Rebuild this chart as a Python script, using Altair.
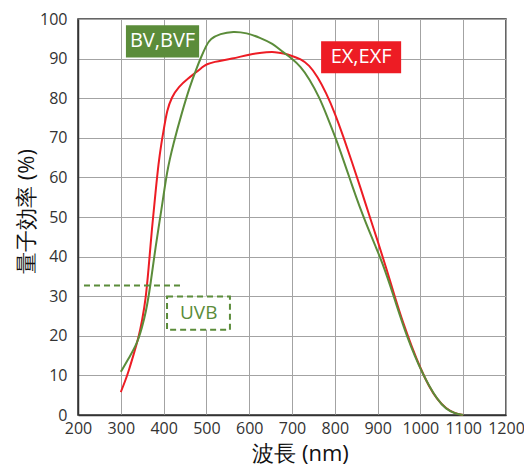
import altair as alt
import pandas as pd

# EX,EXF (red) quantum efficiency curve
wl_ex = [300, 310, 319, 330, 342, 350, 358, 365, 373, 381, 388, 395, 400, 408, 419, 435, 457, 477,
         490, 500, 520, 540, 560, 580, 600, 620, 640, 660, 680, 700, 720, 740, 760, 780, 800, 820,
         840, 860, 880, 900, 920, 940, 960, 980, 1000, 1020, 1040, 1060, 1080, 1100]
qe_ex = [5.8, 8.5, 11.3, 15.3, 19.7, 24.0, 29.0, 37.0, 47.5, 56.0, 63.5, 68.8, 71.8, 77.0, 80.3, 82.9,
         85.0, 86.6, 87.8, 88.6, 89.2, 89.6, 90.0, 90.5, 91.0, 91.4, 91.6, 91.7, 91.3, 90.7, 89.9, 88.4,
         85.4, 81.3, 76.3, 70.3, 63.9, 57.4, 50.6, 44.0, 37.2, 29.9, 23.1, 17.2, 11.8, 7.2, 3.8, 1.6,
         0.4, 0.0]

# BV,BVF (green) quantum efficiency curve
wl_bv = [300, 320, 338, 350, 358, 369, 381, 395, 408, 423, 442, 461, 477, 486, 500, 509, 532, 563,
         594, 625, 655, 678, 700, 720, 740, 765, 782, 802, 820, 834, 850, 865, 880, 895, 910, 937, 967,
         1006, 1040, 1060, 1080, 1100]
qe_bv = [10.9, 14.6, 18.0, 22.3, 25.6, 32.4, 42.5, 51.7, 61.8, 68.6, 76.1, 82.9, 87.5, 90.0, 93.4, 95.0,
         96.3, 96.9, 96.5, 95.3, 93.8, 91.7, 90.0, 88.0, 85.0, 80.0, 75.4, 70.0, 64.4, 60.0, 55.0, 50.6,
         46.5, 42.6, 38.8, 30.3, 20.0, 10.0, 3.7, 1.5, 0.4, 0.0]

series_names = ["EX,EXF", "BV,BVF"]
series_colors = ["#ed1c24", "#5b8c3a"]

# label boxes (data coordinates)
box_text = ["BV,BVF", "EX,EXF"]
box_x0 = [312, 768]
box_x1 = [483, 955]
box_y0 = [90.3, 86.3]
box_y1 = [98.4, 94.4]
box_cx = [397.5, 861.5]
box_cy = [94.35, 90.35]
box_fill = ["#5b8c3a", "#ed1c24"]

# UVB annotation
uvb_line_x = [214, 445]
uvb_line_y = 32.7
uvb_box = [408, 555, 21.5, 29.9]
uvb_label = "UVB"
uvb_pos = [482, 25.7]

x_ticks = list(range(200, 1201, 100))
y_ticks = list(range(0, 101, 10))

GREEN = "#5b8c3a"
FONT = "Open Sans"

lines = pd.DataFrame({
    "wl": wl_ex + wl_bv,
    "qe": qe_ex + qe_bv,
    "series": [series_names[0]] * len(wl_ex) + [series_names[1]] * len(wl_bv),
    "order": list(range(len(wl_ex))) + list(range(len(wl_bv))),
})

xscale = alt.Scale(domain=[200, 1200], nice=False)
yscale = alt.Scale(domain=[0, 100], nice=False)

x_axis = alt.Axis(values=x_ticks, format="d", title="波長 (nm)", labelFlush=False,
                  labelOverlap=False, labelPadding=5, titlePadding=7, titleX=222)
y_axis = alt.Axis(values=y_ticks, format="d", title="量子効率 (%)", labelOverlap=False,
                  labelPadding=11, titlePadding=1, titleY=192)


def X(field):
    return alt.X(field, scale=xscale, axis=x_axis, title="波長 (nm)")


def Y(field):
    return alt.Y(field, scale=yscale, axis=y_axis, title="量子効率 (%)")


line_layer = alt.Chart(lines).mark_line(strokeWidth=2, interpolate="basis").encode(
    x=X("wl:Q"), y=Y("qe:Q"),
    color=alt.Color("series:N", scale=alt.Scale(domain=series_names, range=series_colors), legend=None),
    detail="series:N",
    order="order:Q",
)

boxes = pd.DataFrame({"wl": box_x0, "wl2": box_x1, "qe": box_y0, "qe2": box_y1,
                      "cx": box_cx, "cy": box_cy, "text": box_text, "fill": box_fill})

box_rect = alt.Chart(boxes).mark_rect().encode(
    x=X("wl:Q"), x2="wl2:Q",
    y=Y("qe:Q"), y2="qe2:Q",
    fill=alt.Fill("fill:N", scale=None),
)
box_txt = alt.Chart(boxes).transform_calculate(wl="datum.cx", qe="datum.cy").mark_text(
    color="white", fontSize=20, font=FONT, baseline="middle").encode(
    x=X("wl:Q"), y=Y("qe:Q"), text="text:N")

uvb_line_df = pd.DataFrame({"wl": [uvb_line_x[0]], "wl2": [uvb_line_x[1]], "qe": [uvb_line_y]})
uvb_line = alt.Chart(uvb_line_df).mark_rule(color=GREEN, strokeWidth=2, strokeDash=[6, 4]).encode(
    x=X("wl:Q"), x2="wl2:Q", y=Y("qe:Q"))

uvb_box_df = pd.DataFrame({"wl": [uvb_box[0]], "wl2": [uvb_box[1]], "qe": [uvb_box[2]], "qe2": [uvb_box[3]]})
uvb_rect = alt.Chart(uvb_box_df).mark_rect(fill="white", stroke=GREEN, strokeWidth=2, strokeDash=[6, 4]).encode(
    x=X("wl:Q"), x2="wl2:Q", y=Y("qe:Q"), y2="qe2:Q")

uvb_txt_df = pd.DataFrame({"wl": [uvb_pos[0]], "qe": [uvb_pos[1]], "text": [uvb_label]})
uvb_txt = alt.Chart(uvb_txt_df).mark_text(color=GREEN, fontSize=19, font=FONT, baseline="middle").encode(
    x=X("wl:Q"), y=Y("qe:Q"), text="text:N")

chart = alt.layer(line_layer, uvb_line, uvb_rect, uvb_txt, box_rect, box_txt).properties(
    width=428, height=396,
    autosize=alt.AutoSizeParams(type="none"),
    padding={"left": 70, "top": 11, "right": 18, "bottom": 53},
).configure_view(
    stroke="#333", strokeWidth=1.5
).configure_axis(
    grid=True, gridColor="#a3a3a3", gridWidth=1,
    domainColor="#333", domainWidth=1.5,
    ticks=False,
    labelFont=FONT, labelFontSize=16, labelColor="#333",
    titleFont=FONT, titleFontSize=22, titleColor="#111", titleFontWeight="normal",
)

chart.save("out.html", embed_options={"renderer": "svg", "actions": False})
